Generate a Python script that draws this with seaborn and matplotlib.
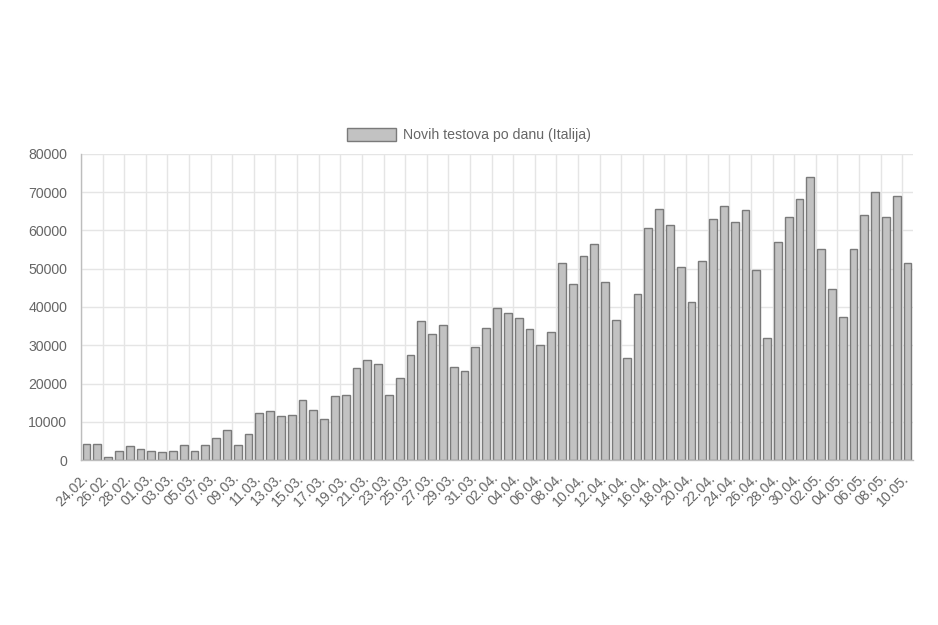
import matplotlib
matplotlib.use("Agg")
import matplotlib.pyplot as plt
from matplotlib.patches import Patch
import seaborn as sns
import pandas as pd

dates = (
    [f"{d:02d}.02." for d in range(24, 30)]
    + [f"{d:02d}.03." for d in range(1, 32)]
    + [f"{d:02d}.04." for d in range(1, 31)]
    + [f"{d:02d}.05." for d in range(1, 11)]
)

tests = [
    4260, 4260, 870, 2350, 3570, 2870,
    2350, 2180, 2350, 3920, 2440, 3920, 5660, 7750, 3830, 6880,
    12360, 12790, 11400, 11660, 15670, 12970, 10620, 16800, 17060, 24020,
    26200, 24980, 16970, 21410, 27330, 36470, 32900, 35330, 24370, 23150, 29500,
    34380, 39690, 38470, 37250, 34120, 30110, 33590, 51520, 46040, 53350,
    56480, 46560, 36550, 26720, 43520, 60750, 65540, 61530, 50570, 41430,
    52050, 62920, 66490, 62320, 65270, 49780, 31850, 57090, 63620, 68320,
    74060, 55270, 44820, 37510, 55090, 64060, 70150, 63620, 69020, 51520,
]

series_label = "Novih testova po danu (Italija)"
y_ticks = [0, 10000, 20000, 30000, 40000, 50000, 60000, 70000, 80000]

df = pd.DataFrame({"date": dates, "value": tests})

sns.set_theme(style="white")
plt.rcParams["font.family"] = ["Liberation Sans", "DejaVu Sans"]

fill = "#c2c2c2"
edge = "#7a7a7a"
grid_c = "#e5e5e5"
axis_c = "#bdbdbd"
text_c = "#666666"
fs = 10.2

fig = plt.figure(figsize=(9.38, 6.25), dpi=100)
ax = fig.add_axes([81 / 938, 1 - 460 / 625, (913 - 81) / 938, (460 - 154) / 625])

sns.barplot(data=df, x="date", y="value", color=fill, edgecolor=edge,
            linewidth=1, width=0.72, saturation=1, ax=ax)

n = len(dates)
ax.set_xlim(-0.5, n - 0.5)
ax.set_ylim(0, 80000)
ax.set_yticks(y_ticks)
ax.set_yticklabels([str(v) for v in y_ticks])

tick_pos = [i - 0.5 for i in range(0, n, 2)]
ax.set_xticks(tick_pos)
ax.set_xticklabels([dates[i] for i in range(0, n, 2)], rotation=45,
                   ha="right", rotation_mode="anchor")

ax.set_axisbelow(True)
ax.grid(True, axis="both", color=grid_c, linewidth=1)
ax.tick_params(axis="both", length=7, width=1, color=grid_c,
               labelcolor=text_c, labelsize=fs, pad=3)
ax.tick_params(axis="x", pad=1)
ax.set_xlabel("")
ax.set_ylabel("")

for s in ["top", "right"]:
    ax.spines[s].set_visible(False)
for s in ["left", "bottom"]:
    ax.spines[s].set_color(axis_c)
    ax.spines[s].set_linewidth(1)

handle = Patch(facecolor=fill, edgecolor=edge, linewidth=1)
fig.legend([handle], [series_label], loc="center", bbox_to_anchor=(0.5, 1 - 135 / 625),
           frameon=False, fontsize=fs, labelcolor=text_c,
           handlelength=3.5, handleheight=1.05, handletextpad=0.5)

fig.savefig("out.png", dpi=100, facecolor="white")
